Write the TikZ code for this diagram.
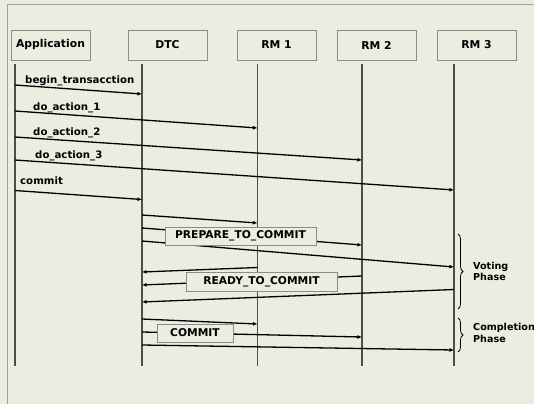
\documentclass[tikz,border=0pt]{standalone}
\usepackage{fontspec}
\setmainfont{DejaVu Sans}
\usetikzlibrary{arrows.meta, positioning, decorations.pathreplacing, calc}

\definecolor{paper}{HTML}{ECECE0}
\definecolor{rim}{HTML}{8C8C84}

\tikzset{
  actor/.style={draw=rim, fill=paper, minimum width=79pt, minimum height=30pt,
    inner sep=0pt, font=\bfseries\fontsize{10.8}{12}\selectfont},
  lifeline/.style={draw=black!70, line width=1.3pt},
  msg/.style={-{Latex[length=4.5pt,width=4pt]}, line width=1.3pt},
  msglabel/.style={anchor=west, inner sep=0pt, font=\bfseries\fontsize{10.2}{11}\selectfont},
  phasebox/.style={draw=rim, fill=paper, inner sep=0pt, minimum height=18pt,
    font=\bfseries\fontsize{10.7}{11}\selectfont},
  phasebrace/.style={decorate, decoration={brace, amplitude=5pt}, line width=0.8pt},
  phaselabel/.style={anchor=west, align=left, inner sep=0pt,
    font=\bfseries\fontsize{9.6}{11.5}\selectfont}
}

\begin{document}
\begin{tikzpicture}[x=1pt, y=-1pt]
  % Hintergrund und Rahmen
  \fill[paper] (0,0) rectangle (534,404);
  \useasboundingbox (0,0) rectangle (534,404);
  \draw[rim!80, line width=1pt] (7,404) -- (7,5) -- (534,5);

  % Teilnehmer
  \node[actor] (app) at (50.5,45) {Application};
  \node[actor] (dtc) at (167.5,45) {DTC};
  \node[actor] (rm1) at (276.5,45) {RM 1};
  \node[actor] (rm2) at (376.5,45) {RM 2};
  \node[actor] (rm3) at (476.5,45) {RM 3};

  % Lebenslinien
  \foreach \name/\x in {lApp/15, lDTC/142, lRM1/257.5, lRM2/362, lRM3/454} {
    \coordinate (\name) at (\x,64);
    \coordinate (\name-end) at (\x,366);
    \draw[lifeline] (\name) -- (\name-end);
  }

  % Anwendung -> DTC / RMs
  \draw[msg] (lApp |- 0,85) -- (lDTC |- 0,94);
  \node[msglabel] (lbBegin) at (25,81) {begin\_transacction};
  \draw[msg] (lApp |- 0,111) -- (lRM1 |- 0,128);
  \node[msglabel] (lbAct1) at (33,108) {do\_action\_1};
  \draw[msg] (lApp |- 0,137) -- (lRM2 |- 0,160);
  \node[msglabel] (lbAct2) at (33,133) {do\_action\_2};
  \draw[msg] (lApp |- 0,160) -- (lRM3 |- 0,190);
  \node[msglabel] (lbAct3) at (35,155.5) {do\_action\_3};
  \draw[msg] (lApp |- 0,190.5) -- (lDTC |- 0,199.5);
  \node[msglabel] (lbCommit) at (20,181) {commit};

  % Abstimmungsphase
  \draw[msg] (lDTC |- 0,215) -- (lRM1 |- 0,223);
  \draw[msg] (lDTC |- 0,228) -- (lRM2 |- 0,245);
  \draw[msg] (lDTC |- 0,241) -- (lRM3 |- 0,267);
  \node[phasebox, minimum width=151pt] (prep) at (240.5,236) {PREPARE\_TO\_COMMIT};

  \draw[msg] (lRM1 |- 0,267.5) -- (lDTC |- 0,272);
  \draw[msg] (lRM2 |- 0,276) -- (lDTC |- 0,285);
  \draw[msg] (lRM3 |- 0,289.5) -- (lDTC |- 0,302);
  \node[phasebox, minimum width=151pt, minimum height=19pt] (ready) at (261.5,281.5) {READY\_TO\_COMMIT};

  % Abschlussphase
  \draw[msg] (lDTC |- 0,319) -- (lRM1 |- 0,324);
  \draw[msg] (lDTC |- 0,332) -- (lRM2 |- 0,337);
  \draw[msg] (lDTC |- 0,345) -- (lRM3 |- 0,350);
  \node[phasebox, minimum width=76pt] (cmt) at (195,333) {COMMIT};

  % Klammern
  \draw[phasebrace] (458,234) -- (458,309);
  \node[phaselabel] (voting) at (473,271.5) {Voting\\Phase};
  \draw[phasebrace] (458,318) -- (458,352);
  \node[phaselabel] (completion) at (473,333) {Completion\\Phase};
\end{tikzpicture}
\end{document}
